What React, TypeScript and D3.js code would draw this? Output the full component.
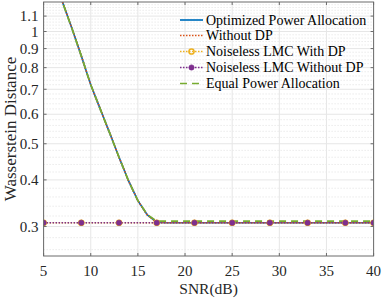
import React from "react";
import * as d3 from "d3";

// SNR grid (dB)
const snr = [5, 6, 7, 8, 9, 10, 11, 12, 13, 14, 15, 16, 17, 18, 19, 20, 21, 22, 23, 24, 25, 26, 27, 28, 29, 30, 31, 32, 33, 34, 35, 36, 37, 38, 39, 40];

const optimized = [1.67, 1.41, 1.2, 1.02, 0.86, 0.72, 0.62, 0.535, 0.46, 0.398, 0.352, 0.322, 0.308, 0.307, 0.307, 0.307, 0.307, 0.307, 0.307, 0.307, 0.307, 0.307, 0.307, 0.307, 0.307, 0.307, 0.307, 0.307, 0.307, 0.307, 0.307, 0.307, 0.307, 0.307, 0.307, 0.307];
const withoutDP = [1.67, 1.41, 1.2, 1.02, 0.86, 0.72, 0.62, 0.535, 0.46, 0.398, 0.352, 0.322, 0.308, 0.307, 0.307, 0.307, 0.307, 0.307, 0.307, 0.307, 0.307, 0.307, 0.307, 0.307, 0.307, 0.307, 0.307, 0.307, 0.307, 0.307, 0.307, 0.307, 0.307, 0.307, 0.307, 0.307];
const noiselessWithDP = [0.307, 0.307, 0.307, 0.307, 0.307, 0.307, 0.307, 0.307, 0.307, 0.307, 0.307, 0.307, 0.307, 0.307, 0.307, 0.307, 0.307, 0.307, 0.307, 0.307, 0.307, 0.307, 0.307, 0.307, 0.307, 0.307, 0.307, 0.307, 0.307, 0.307, 0.307, 0.307, 0.307, 0.307, 0.307, 0.307];
const noiselessWithoutDP = [0.307, 0.307, 0.307, 0.307, 0.307, 0.307, 0.307, 0.307, 0.307, 0.307, 0.307, 0.307, 0.307, 0.307, 0.307, 0.307, 0.307, 0.307, 0.307, 0.307, 0.307, 0.307, 0.307, 0.307, 0.307, 0.307, 0.307, 0.307, 0.307, 0.307, 0.307, 0.307, 0.307, 0.307, 0.307, 0.307];
const equalPower = [1.67, 1.41, 1.2, 1.02, 0.86, 0.72, 0.62, 0.535, 0.46, 0.398, 0.352, 0.323, 0.31, 0.31, 0.31, 0.31, 0.31, 0.31, 0.31, 0.31, 0.31, 0.31, 0.31, 0.31, 0.31, 0.31, 0.31, 0.31, 0.31, 0.31, 0.31, 0.31, 0.31, 0.31, 0.31, 0.31];

const markerSnr = [5, 9, 13, 17, 21, 25, 29, 33, 37, 40];

const xTicks = [5, 10, 15, 20, 25, 30, 35, 40];
const yTicks = [0.3, 0.4, 0.5, 0.6, 0.7, 0.8, 0.9, 1, 1.1];
const yMinor = [0.26, 0.28, 0.32, 0.34, 0.36, 0.38, 0.42, 0.44, 0.46, 0.48, 0.52, 0.54, 0.56, 0.58, 0.62, 0.64, 0.66, 0.68, 0.72, 0.74, 0.76, 0.78, 0.82, 0.84, 0.86, 0.88, 0.92, 0.94, 0.96, 0.98, 1.02, 1.04, 1.06, 1.08, 1.12, 1.14, 1.16, 1.18];

const legendNames = ["Optimized Power Allocation", "Without DP", "Noiseless LMC With DP", "Noiseless LMC Without DP", "Equal Power Allocation"];

const W = 382;
const H = 299;
const m = { left: 43.6, right: 8.4, top: 2, bottom: 43 };
const serif = { fontFamily: "Liberation Serif, Times New Roman, serif" };

export default function App() {
  const x = d3.scaleLinear().domain([5, 40]).range([m.left, W - m.right]);
  const y = d3.scaleLog().domain([0.25, 1.2]).range([H - m.bottom, m.top]);
  const x0 = x.range()[0], x1 = x.range()[1];
  const y0 = y.range()[0], y1 = y.range()[1];

  const line = (vals: number[]) =>
    d3.line<number>().x((_, i) => x(snr[i])).y((v) => y(v))(vals) || "";

  const series = [
    { vals: optimized, color: "#0072BD", dash: "", marker: "" },
    { vals: withoutDP, color: "#D95319", dash: "1.5 1.5", marker: "" },
    { vals: noiselessWithDP, color: "#EDB120", dash: "1.5 1.5", marker: "o" },
    { vals: noiselessWithoutDP, color: "#7E2F8E", dash: "1.5 1.5", marker: "dot" },
    { vals: equalPower, color: "#77AC30", dash: "7 5", marker: "" },
  ];

  const drawMarker = (kind: string, color: string, cx: number, cy: number, key: string) => {
    if (kind === "o")
      return <circle key={key} cx={cx} cy={cy} r={2.6} fill="none" stroke={color} strokeWidth={1.5} />;
    if (kind === "dot")
      return <circle key={key} cx={cx} cy={cy} r={2.6} fill={color} stroke={color} strokeWidth={0.8} />;
    return null;
  };

  const legendX = 180;
  const legendRows = [20, 35.5, 51.5, 67.5, 83.5];

  return (
    <svg width={W} height={H} style={{ position: "absolute", left: 0, top: 0 }}>
      <defs>
        <clipPath id="plot">
          <rect x={x0} y={y1} width={x1 - x0} height={y0 - y1} />
        </clipPath>
      </defs>
      <rect x={0} y={0} width={W} height={H} fill="#fff" />

      {/* minor grid */}
      {yMinor.map((v) => (
        <line key={"my" + v} x1={x0} x2={x1} y1={y(v)} y2={y(v)} stroke="#d4d4d4" strokeWidth={0.7} strokeDasharray="1 2" />
      ))}
      {/* major grid */}
      {yTicks.map((v) => (
        <line key={"gy" + v} x1={x0} x2={x1} y1={y(v)} y2={y(v)} stroke="#e6e6e6" strokeWidth={1} />
      ))}
      {xTicks.map((v) => (
        <line key={"gx" + v} x1={x(v)} x2={x(v)} y1={y0} y2={y1} stroke="#e6e6e6" strokeWidth={1} />
      ))}

      {/* data */}
      <g clipPath="url(#plot)">
        {series.map((s, i) => (
          <path key={i} d={line(s.vals)} fill="none" stroke={s.color} strokeWidth={1.7} strokeDasharray={s.dash || undefined} />
        ))}
        {series.map((s, i) =>
          s.marker
            ? markerSnr.map((v) => drawMarker(s.marker, s.color, x(v), y(s.vals[snr.indexOf(v)]), `m${i}-${v}`))
            : null
        )}
      </g>

      {/* axes box */}
      <rect x={x0} y={y1} width={x1 - x0} height={y0 - y1} fill="none" stroke="#6b6b6b" strokeWidth={1} />
      {xTicks.map((v) => (
        <g key={"tx" + v}>
          <line x1={x(v)} x2={x(v)} y1={y0} y2={y0 - 3} stroke="#6b6b6b" />
          <line x1={x(v)} x2={x(v)} y1={y1} y2={y1 + 3} stroke="#6b6b6b" />
          <text x={x(v)} y={y0 + 20} textAnchor="middle" style={serif} fontSize={15} fill="#262626">{v}</text>
        </g>
      ))}
      {yTicks.map((v) => (
        <g key={"ty" + v}>
          <line x1={x0} x2={x0 + 3} y1={y(v)} y2={y(v)} stroke="#6b6b6b" />
          <line x1={x1} x2={x1 - 3} y1={y(v)} y2={y(v)} stroke="#6b6b6b" />
          <text x={x0 - 5} y={y(v)} dy="0.35em" textAnchor="end" style={serif} fontSize={15} fill="#262626">{v}</text>
        </g>
      ))}

      <text x={(x0 + x1) / 2} y={H - 5} textAnchor="middle" style={serif} fontSize={15.5} fill="#262626">SNR(dB)</text>
      <text transform={`translate(16,${(y0 + y1) / 2}) rotate(-90)`} textAnchor="middle" style={serif} fontSize={17} fill="#262626">Wasserstein Distance</text>

      {/* legend */}
      {series.map((s, i) => (
        <g key={"lg" + i}>
          <line x1={legendX} x2={legendX + 23} y1={legendRows[i]} y2={legendRows[i]} stroke={s.color} strokeWidth={1.7} strokeDasharray={s.dash || undefined} />
          {drawMarker(s.marker, s.color, legendX + 11.5, legendRows[i], "lm" + i)}
          <text x={legendX + 26} y={legendRows[i]} dy="0.35em" style={serif} fontSize={14} fill="#000">{legendNames[i]}</text>
        </g>
      ))}
    </svg>
  );
}
